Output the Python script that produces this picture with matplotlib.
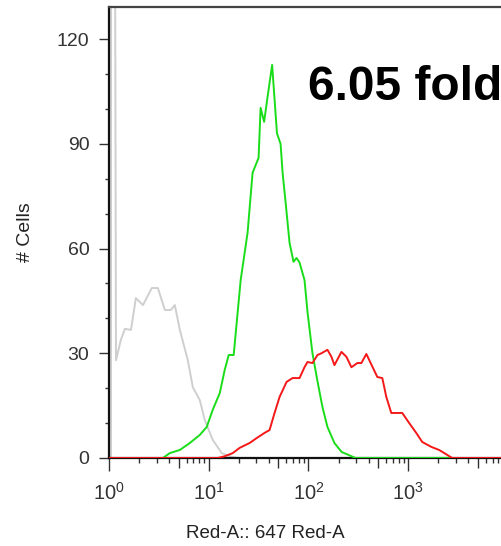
import matplotlib
matplotlib.use("Agg")
import matplotlib.pyplot as plt
from matplotlib.ticker import LogLocator, FixedLocator, NullFormatter, MultipleLocator

plt.rcParams['font.family'] = ['Liberation Sans', 'DejaVu Sans']
plt.rcParams['mathtext.fontset'] = 'custom'
plt.rcParams['mathtext.rm'] = 'Liberation Sans'
plt.rcParams['mathtext.it'] = 'Liberation Sans'

# histogram traces, x = Red-A intensity, y = cell count
gray_x = [1.0, 1.047, 1.05, 1.12, 1.175, 1.32, 1.445, 1.66, 1.86, 2.19, 2.40, 2.69, 3.09,
          3.63, 4.17, 4.57, 5.13, 6.17, 6.92, 8.13, 9.12, 10.96, 13.5, 17.0, 20.4, 8900]
gray_y = [0, 0, 300, 300, 28, 34, 37, 36.7, 45.8, 43.8, 46, 48.7, 48.7,
          42.4, 42.4, 43.8, 36.7, 28, 20.3, 16.6, 10.9, 5.2, 1.4, 0.3, 0, 0]

green_x = [1.0, 3.47, 4.07, 5.13, 6.46, 8.13, 9.55, 10.96, 12.9, 14.45, 15.85, 17.78,
           20.9, 24.5, 27.5, 31.6, 33.1, 35.9, 38.9, 43.2, 48.3, 52.5, 55.0, 58.6, 64.6,
           70.8, 75.9, 81.3, 91.2, 98.0, 109.6, 122.5, 138.0, 154.9, 181.9, 215.3, 251.2,
           295.1, 8900]
green_y = [0, 0, 1.4, 2.3, 4.3, 6.6, 8.9, 13.8, 18.6, 25.2, 29.5, 29.5,
           51, 64.5, 81.7, 86, 100.3, 96.3, 103.5, 112.6, 93, 90, 81.7, 74, 61.6,
           56.2, 57.3, 56, 51, 41.5, 30, 22.3, 14.6, 8.9, 4.3, 1.7, 0.9,
           0, 0]

red_x = [1.0, 12.3, 14.45, 17.4, 20.4, 25.7, 30.2, 36.3, 40.7, 45.7, 51.3, 60.3, 69.2,
         81.3, 91.2, 97.7, 109.6, 123.0, 134.9, 154.9, 169.8, 182.0, 213.8, 239.9, 269.2,
         309.0, 338.8, 380.2, 407.4, 489.8, 549.5, 602.6, 676.1, 871.0, 1023.0, 1202.0,
         1380.0, 1698.0, 2042.0, 2455.0, 2754.0, 8900]
red_y = [0, 0, 0.5, 1.4, 2.9, 4.3, 5.7, 7.2, 8, 12.9, 17.5, 21.8, 22.9,
         22.9, 26, 27.5, 27.2, 29.5, 30, 31, 29, 26.6, 30.4, 29, 26,
         27.2, 27.2, 29.8, 28, 23.2, 22.9, 17.5, 12.9, 12.9, 10, 7.2,
         4.6, 3.2, 2.3, 0.9, 0, 0]

y_ticks = [0, 30, 60, 90, 120]
fold_text = "6.05 fold"

fig = plt.figure(figsize=(5.02, 5.46), dpi=100)
ax = fig.add_axes([109 / 502, 88 / 546, 394 / 502, 451 / 546])

ax.plot(gray_x, gray_y, color='#cfcfcf', lw=1.4, zorder=2)
ax.plot(green_x, green_y, color='#1add1a', lw=1.4, zorder=3)
ax.plot(red_x, red_y, color='#f41818', lw=1.4, zorder=4)

ax.set_xscale('log')
ax.set_xlim(1, 10 ** 3.95)
ax.set_ylim(0, 129.2)

ax.set_yticks(y_ticks)
ax.yaxis.set_minor_locator(MultipleLocator(10))
ax.xaxis.set_major_locator(FixedLocator([1, 10, 100, 1000]))
ax.xaxis.set_minor_locator(LogLocator(base=10, subs=[2, 3, 4, 6, 7, 8, 9]))
ax.xaxis.set_minor_formatter(NullFormatter())

ax.tick_params(axis='both', which='major', direction='out', color='#333333',
               labelcolor='#333333', labelsize=14, width=1)
ax.tick_params(axis='x', which='major', length=9.4, pad=8, labelsize=14.5)
ax.tick_params(axis='y', which='major', length=7.2, pad=7)
ax.tick_params(axis='x', which='minor', length=3.6, width=1, color='#333333')
ax.tick_params(axis='y', which='minor', length=2.9, width=1, color='#333333')

# medium ticks at 5 x 10^n
sec = ax.secondary_xaxis('bottom')
sec.set_xticks([5, 50, 500, 5000])
sec.set_xticklabels([])
sec.tick_params(axis='x', length=7.2, width=1, color='#333333')
sec.spines['bottom'].set_visible(False)

for side in ['left', 'bottom']:
    ax.spines[side].set_color('#111111')
    ax.spines[side].set_linewidth(1.6)
ax.spines['top'].set_color('#444444')
ax.spines['top'].set_linewidth(1.6)
ax.spines['right'].set_visible(False)

ax.set_xlabel("Red-A:: 647 Red-A", fontsize=13.5, color='#222222')
ax.xaxis.set_label_coords((265 - 109) / 394, -0.149)
ax.set_ylabel("# Cells", fontsize=14, color='#222222')
ax.yaxis.set_label_coords(-0.19, (458 - 232) / 451)

fig.text(308 / 502, 1 - 100 / 546, fold_text, fontsize=34.5, fontweight='bold',
         color='black', va='baseline', ha='left')

fig.savefig("out.png", dpi=100)
